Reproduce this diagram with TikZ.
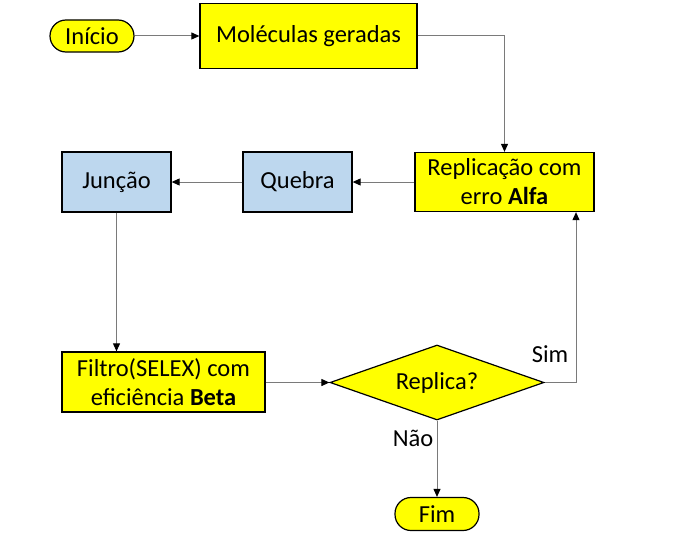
\documentclass[tikz,border=0pt]{standalone}
\usepackage{fontspec}
\setmainfont{Carlito}
\usetikzlibrary{shapes.geometric,arrows.meta}
\definecolor{yel}{HTML}{FFFF00}
\definecolor{lblue}{HTML}{BDD7EE}
\definecolor{conncol}{HTML}{7A7A7A}
\begin{document}
\begin{tikzpicture}[x=1pt,y=-1pt,
  every node/.style={font=\fontsize{24.5}{29}\selectfont, inner sep=0pt},
  ybox/.style={draw=black, line width=1.3pt, fill=yel, align=center},
  bbox/.style={draw=black, line width=1.3pt, fill=lblue, align=center},
  term/.style={draw=black, line width=1.2pt, fill=yel, rounded corners=16pt},
  decide/.style={draw=black, line width=1.2pt, fill=yel, diamond, aspect=2.85},
  conn/.style={draw=conncol, line width=1pt, -{Triangle[length=8pt,width=7pt,fill=black,color=black]}},
  plain/.style={draw=conncol, line width=1pt},
  lbl/.style={font=\fontsize{24.5}{29}\selectfont}
]
\useasboundingbox (0,0) rectangle (676,543);
\node[term, minimum width=84pt, minimum height=32pt] (ini) at (92,36) {Início};
\node[ybox, minimum width=217pt, minimum height=65pt] (mol) at (308.5,36) {Moléculas geradas};
\node[ybox, minimum width=179pt, minimum height=59pt] (rep) at (504.5,182) {Replicação com\\erro \textbf{Alfa}};
\node[bbox, minimum width=109pt, minimum height=60pt] (que) at (297.5,182) {Quebra};
\node[bbox, minimum width=109pt, minimum height=60pt] (jun) at (116.5,182) {Junção};
\node[ybox, minimum width=203pt, minimum height=60pt] (fil) at (163.5,382) {Filtro(SELEX) com\\eficiência \textbf{Beta}};
\node[decide, minimum width=214pt, minimum height=75pt] (dia) at (437,382.5) {Replica?};
\node[term, minimum width=84pt, minimum height=33pt] (fim) at (437,514) {Fim};
\coordinate (simc) at (576,382.5);
\draw[conn] (ini.east) -- (mol.west |- ini.east);
\draw[conn] (mol.east) -| (rep.north);
\draw[conn] (rep.west) -- (que.east);
\draw[conn] (que.west) -- (jun.east);
\draw[conn] (jun.south) -- (jun.south |- fil.north);
\draw[conn] (fil.east |- dia.west) -- (dia.west);
\draw[plain] (dia.east) -- (simc);
\draw[conn] (simc) -- (simc |- rep.south);
\draw[conn] (dia.south) -- (fim.north);
\node[lbl] (sim) at (550,354) {Sim};
\node[lbl] (nao) at (413,438) {Não};
\end{tikzpicture}
\end{document}
